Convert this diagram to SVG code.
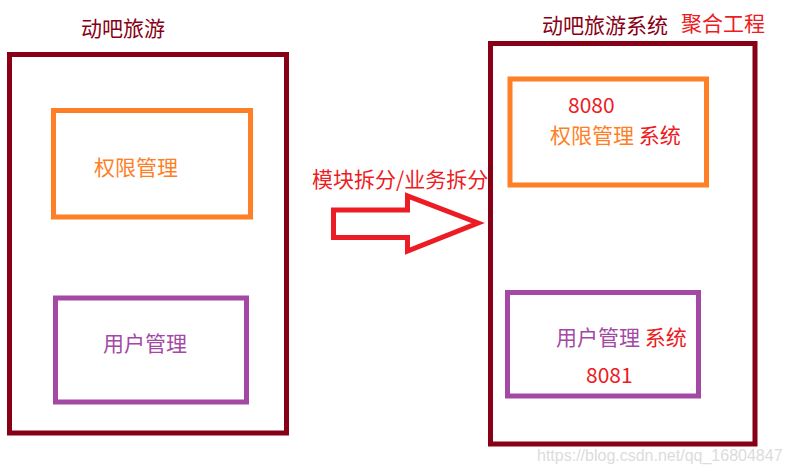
<svg xmlns="http://www.w3.org/2000/svg" width="789" height="474" viewBox="0 0 789 474">
<style>
text{font-family:"Noto Sans CJK SC","Microsoft YaHei","Liberation Sans",sans-serif;font-size:21px}
.box{fill:none;stroke-width:5}
.dk{stroke:#880015}.or{stroke:#FF7F27}.pu{stroke:#A349A4}
.tdk{fill:#880015}.tor{fill:#FF7F27}.tpu{fill:#A349A4}.tre{fill:#ED1C24}
</style>
<rect width="789" height="474" fill="#fff"/>
<g id="system-left">
<rect class="box dk" x="9.5" y="54.5" width="277" height="378.5"/>
<text class="tdk" x="81" y="36">动吧旅游</text>
</g>
<g id="auth-left">
<rect class="box or" x="53.5" y="110.5" width="197" height="106.5"/>
<text class="tor" x="94" y="175">权限管理</text>
</g>
<g id="user-left">
<rect class="box pu" x="55.5" y="298" width="191" height="104"/>
<text class="tpu" x="103" y="351">用户管理</text>
</g>
<g id="system-right">
<rect class="box dk" x="490.5" y="43.5" width="264.5" height="400.5"/>
<text class="tdk" x="542" y="33">动吧旅游系统</text>
<text class="tre" x="681" y="31">聚合工程</text>
</g>
<g id="auth-right">
<rect class="box or" x="510" y="79" width="196.5" height="106"/>
<text class="tre" x="568" y="113">8080</text>
<text x="550" y="143"><tspan class="tor">权限管理</tspan><tspan class="tre"> 系统</tspan></text>
</g>
<g id="user-right">
<rect class="box pu" x="507.5" y="292.5" width="191" height="103.5"/>
<text x="556" y="345"><tspan class="tpu">用户管理</tspan><tspan class="tre"> 系统</tspan></text>
<text class="tre" x="586" y="383">8081</text>
</g>
<g id="connectors">
<polygon points="333.5,210 407.5,210 407.5,196 478,223 407.5,251 407.5,237.5 333.5,237.5" fill="none" stroke="#ED1C24" stroke-width="5"/>
<text class="tre" x="312" y="187">模块拆分/业务拆分</text>
</g>
<text x="537" y="461" style="font-family:'Liberation Sans',Arial,sans-serif;font-size:16px" fill="#dcdcdc">https://blog.csdn.net/qq_16804847</text>
</svg>
